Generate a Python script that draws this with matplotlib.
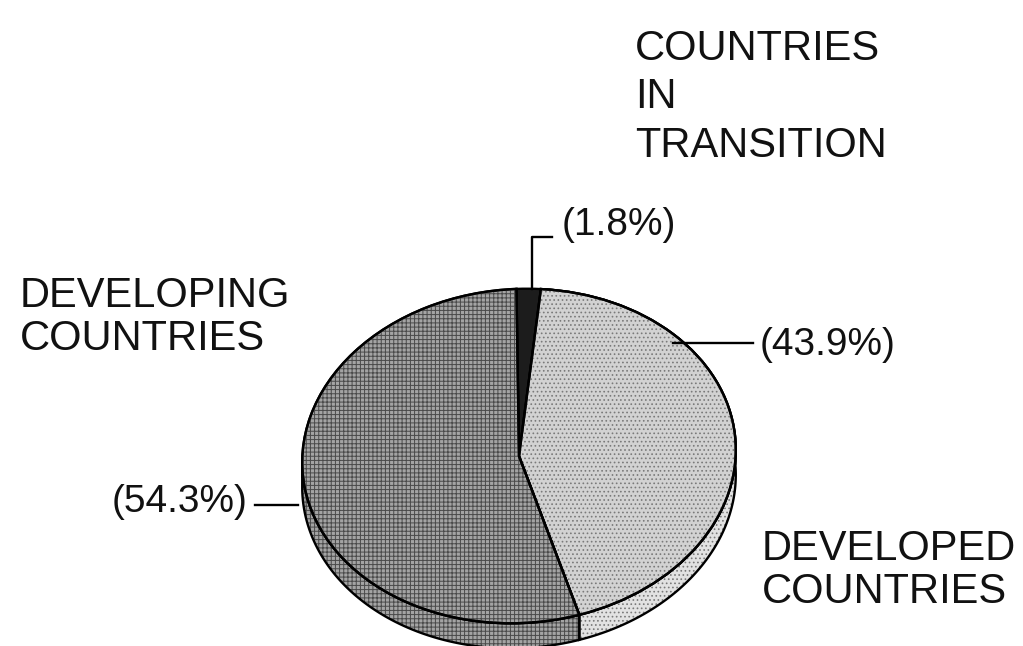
import numpy as np
import matplotlib
matplotlib.use("Agg")
import matplotlib.pyplot as plt
from matplotlib.patches import Polygon, Wedge
from matplotlib.transforms import Affine2D

# shares of the total, in the order they go round the pie (clockwise from the top)
groups = ["COUNTRIES\nIN\nTRANSITION", "DEVELOPED\nCOUNTRIES", "DEVELOPING\nCOUNTRIES"]
shares = [1.8, 43.9, 54.3]
share_labels = ["(1.8%)", "(43.9%)", "(54.3%)"]

top_colors = ["#1c1c1c", "#d2d2d2", "#a4a4a4"]
side_colors = ["#1c1c1c", "#e2e2e2", "#a4a4a4"]
hatches = [None, "....", "++++"]
hatch_colors = ["#1c1c1c", "#7a7a7a", "#4a4a4a"]

plt.rcParams["font.family"] = ["Liberation Sans", "DejaVu Sans"]
plt.rcParams["hatch.linewidth"] = 0.7

fig = plt.figure(figsize=(10.23, 6.46), dpi=100)
ax = fig.add_axes([0, 0, 1, 1])

# tilted disc: top face is a slightly rotated ellipse, rim is it pushed down
cx, cy, rx, ry, tilt = 519, 456, 217, 167, 4
depth = 25
start = 87.6
ellipse = Affine2D().scale(rx, -ry).rotate_deg(-tilt).translate(cx, cy)
lw = 1.7

# angular extent of each slice (degrees, counter-clockwise, math convention)
ends = start - 3.6 * np.cumsum(shares)
begins = np.concatenate([[start], ends[:-1]])

# the rim is seen between the left-most and right-most points of the face
grid = np.linspace(0, 360, 3601)
gx = ellipse.transform(np.column_stack([np.cos(np.radians(grid)),
                                        np.sin(np.radians(grid))]))[:, 0]
front_lo = grid[np.argmin(gx)]
front_hi = grid[np.argmax(gx)] + 360

for b, e, fc, hc, h in zip(begins, ends, side_colors, hatch_colors, hatches):
    lo = e % 360
    hi = lo + (b - e)
    lo, hi = max(lo, front_lo), min(hi, front_hi)
    if hi <= lo:
        continue
    th = np.radians(np.linspace(lo, hi, 150))
    top = ellipse.transform(np.column_stack([np.cos(th), np.sin(th)]))
    bot = top[::-1] + [0, depth]
    pts = np.vstack([top, bot])
    ax.add_patch(Polygon(pts, closed=True, facecolor=fc, edgecolor="none", zorder=1))
    if h:
        ax.add_patch(Polygon(pts, closed=True, facecolor="none", edgecolor=hc,
                             hatch=h, linewidth=0, zorder=1.5))
    ax.add_patch(Polygon(pts, closed=True, facecolor="none", edgecolor="black",
                         linewidth=lw, zorder=2))

# top face
wedges, _ = ax.pie(shares, startangle=start, counterclock=False, radius=1,
                   colors=top_colors, frame=True,
                   wedgeprops=dict(edgecolor="black", linewidth=lw))
disc = ellipse + ax.transData
for w, hc, h in zip(wedges, hatch_colors, hatches):
    w.set_transform(disc)
    w.set_zorder(3)
    if h:
        ax.add_patch(Wedge((0, 0), 1, w.theta1, w.theta2, facecolor="none",
                           edgecolor=hc, hatch=h, linewidth=0,
                           transform=disc, zorder=3.5))
        ax.add_patch(Wedge((0, 0), 1, w.theta1, w.theta2, facecolor="none",
                           edgecolor="black", linewidth=lw,
                           transform=disc, zorder=4))
ax.set_xlim(0, 1023)
ax.set_ylim(646, 0)
ax.set_aspect("auto")
ax.axis("off")

# leader lines
line_kw = dict(color="black", linewidth=lw, zorder=5)
ax.plot([532, 532, 552], [289, 237, 237], **line_kw)
ax.plot([673, 753], [343, 343], **line_kw)
ax.plot([255, 298], [505, 505], **line_kw)

# percentages
pct_kw = dict(fontsize=28, va="baseline", ha="left", color="#111111")
ax.text(562, 235, share_labels[0], **pct_kw)
ax.text(760, 355, share_labels[1], **pct_kw)
ax.text(112, 512, share_labels[2], **pct_kw)


def block(x, y, text, step):
    for i, line in enumerate(text.split("\n")):
        ax.text(x, y + i * step, line, fontsize=30, va="baseline", ha="left",
                color="#111111")


block(635, 60, groups[0], 48.5)
block(762, 560, groups[1], 43)
block(20, 307, groups[2], 43)

fig.savefig("out.png", dpi=100, facecolor="white")
